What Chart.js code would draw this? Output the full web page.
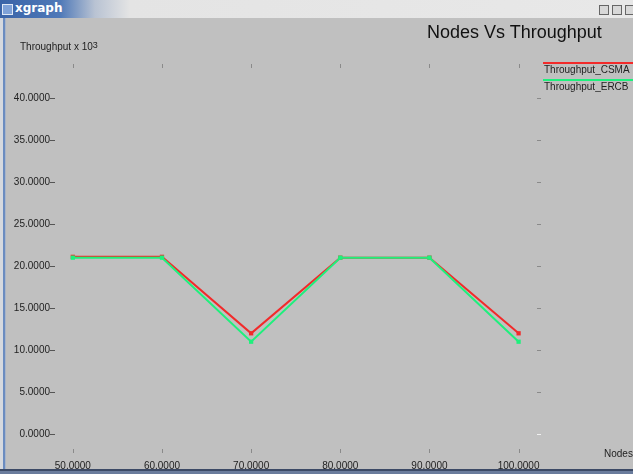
<!DOCTYPE html>
<html>
<head>
<meta charset="utf-8">
<script src="https://cdn.jsdelivr.net/npm/chart.js@4/dist/chart.umd.min.js"></script>
<style>
  html, body { margin: 0; padding: 0; background: #c0c0c0; }
  #win { position: relative; width: 633px; height: 474px; overflow: hidden; background: #c0c0c0; font-family: "Liberation Sans", Arial, sans-serif; }
  #plot { position: absolute; left: 0; top: 0; width: 633px; height: 474px; }
  #titlebar { position: absolute; left: 0; top: 0; width: 633px; height: 18px;
    background: linear-gradient(to right, #3a64a8 0px, #4f79b8 60px, #b9c3d3 95px, #e4e4e4 130px, #e8e8e8 100%); }
  #titlebar .name { position: absolute; left: 15px; top: 1px; color: #fff; font: bold 12px "DejaVu Sans", sans-serif; }
  #titlebar .icon { position: absolute; left: 2px; top: 4px; width: 9px; height: 9px; background: #7fa2d8; border: 1px solid #dfe8f5; }
  .btn { position: absolute; top: 5px; width: 8px; height: 8px; background: #d8d8d8; border: 1px solid #666; }
  #lborder { position: absolute; left: 0; top: 18px; width: 6px; height: 456px;
    background: linear-gradient(to right, #d6d9de 0px, #d6d9de 3px, #6b8cc0 3px, #6b8cc0 5px, #a8b4c8 5px); }
  #bborder { position: absolute; left: 0; top: 469px; width: 633px; height: 5px;
    background: linear-gradient(to bottom, #3c4a66 0px, #3c4a66 2px, #6a7c9c 2px); }
  .txt { position: absolute; color: #222; white-space: nowrap; }
  #title { left: 427px; top: 22px; font-size: 18px; color: #111; }
  #ylab { left: 20px; top: 41px; font-size: 10px; }
  #ylab sup { font-size: 9px; position: relative; top: -2px; vertical-align: baseline; }
  #xlab { left: 604px; top: 448px; font-size: 10px; }
</style>
</head>
<body>
<div id="win">
  <canvas id="plot" width="633" height="474"></canvas>
  <div id="titlebar">
    <div class="icon"></div>
    <div class="name">xgraph</div>
    <div class="btn" style="left:599px"></div>
    <div class="btn" style="left:612px"></div>
    <div class="btn" style="left:625px"></div>
  </div>
  <div id="lborder"></div>
  <div id="bborder"></div>
  <div class="txt" id="title">Nodes Vs Throughput</div>
  <div class="txt" id="ylab">Throughput x 10<sup>3</sup></div>
  <div class="txt" id="xlab">Nodes</div>
</div>
<script>
// Number of nodes in the simulated network
const nodes = [50, 60, 70, 80, 90, 100];
// Throughput (x 10^3) for each protocol
const throughputCSMA = [21.1, 21.1, 12.0, 21.0, 21.0, 12.0];
const throughputERCB = [21.0, 21.0, 11.0, 21.0, 21.0, 11.0];
// Axis tick values
const xTicks = [50, 60, 70, 80, 90, 100];
const yTicks = [0, 5, 10, 15, 20, 25, 30, 35, 40];
const seriesNames = ['Throughput_CSMA', 'Throughput_ERCB'];

const RED = '#f22a2a';
const GREEN = '#1ef07c';

const toPoints = (ys) => nodes.map((n, i) => ({ x: n, y: ys[i] }));

// xgraph-style border tick marks and the legend at the right edge
const xgraphDecor = {
  id: 'xgraphDecor',
  afterDraw(chart) {
    const { ctx, chartArea: a, scales } = chart;
    ctx.save();
    ctx.lineWidth = 1;
    // x ticks on top and bottom edges
    xTicks.forEach(v => {
      const px = Math.round(scales.x.getPixelForValue(v)) + 0.5;
      ctx.strokeStyle = '#8a8a8a';
      ctx.beginPath(); ctx.moveTo(px, a.top - 2); ctx.lineTo(px, a.top + 2); ctx.stroke();
      ctx.beginPath(); ctx.moveTo(px, a.bottom - 2); ctx.lineTo(px, a.bottom + 2); ctx.stroke();
    });
    // y ticks on left and right edges
    yTicks.forEach(v => {
      const py = Math.round(scales.y.getPixelForValue(v)) + 0.5;
      ctx.strokeStyle = '#555';
      ctx.beginPath(); ctx.moveTo(a.left - 5, py); ctx.lineTo(a.left, py); ctx.stroke();
      ctx.strokeStyle = v === 0 ? '#f0f0f0' : '#8a8a8a';
      ctx.beginPath(); ctx.moveTo(a.right - 3, py); ctx.lineTo(a.right + 1, py); ctx.stroke();
    });
    // legend
    const colors = [RED, GREEN];
    ctx.font = '10px "Liberation Sans", Arial, sans-serif';
    ctx.textBaseline = 'middle';
    seriesNames.forEach((name, i) => {
      const y0 = a.top - 3 + i * 17;
      ctx.strokeStyle = colors[i];
      ctx.lineWidth = 2;
      ctx.beginPath(); ctx.moveTo(a.right + 3, y0); ctx.lineTo(chart.width, y0); ctx.stroke();
      ctx.fillStyle = '#222';
      ctx.fillText(name, a.right + 4, y0 + 7);
    });
    ctx.restore();
  }
};

new Chart(document.getElementById('plot'), {
  type: 'line',
  data: {
    datasets: [
      { label: seriesNames[0], data: toPoints(throughputCSMA), borderColor: RED, backgroundColor: RED, order: 2,
        borderWidth: 2, pointStyle: 'rect', pointRadius: 3, pointBorderWidth: 0, tension: 0 },
      { label: seriesNames[1], data: toPoints(throughputERCB), borderColor: GREEN, backgroundColor: GREEN, order: 1,
        borderWidth: 2, pointStyle: 'rect', pointRadius: 3, pointBorderWidth: 0, tension: 0 }
    ]
  },
  options: {
    responsive: false,
    animation: false,
    devicePixelRatio: 1,
    layout: { padding: { top: 66, right: 93, left: 0, bottom: 0 } },
    plugins: { legend: { display: false }, tooltip: { enabled: false }, title: { display: false } },
    scales: {
      x: {
        type: 'linear', min: 48, max: 102.4,
        afterBuildTicks: (s) => { s.ticks = xTicks.map(v => ({ value: v })); },
        afterFit: (s) => { s.height = 23; },
        grid: { display: false, drawTicks: false }, border: { display: false },
        ticks: { padding: 9, autoSkip: false, maxRotation: 0, color: '#222',
          font: { family: '"Liberation Sans", Arial, sans-serif', size: 10 },
          callback: (v) => Number(v).toFixed(4) }
      },
      y: {
        type: 'linear', min: -2, max: 43.8,
        afterBuildTicks: (s) => { s.ticks = yTicks.map(v => ({ value: v })); },
        afterFit: (s) => { s.width = 55; },
        grid: { display: false, drawTicks: false }, border: { display: false },
        ticks: { padding: 5, autoSkip: false, color: '#222',
          font: { family: '"Liberation Sans", Arial, sans-serif', size: 10 },
          callback: (v) => Number(v).toFixed(4) }
      }
    }
  },
  plugins: [xgraphDecor]
});
</script>
</body>
</html>
